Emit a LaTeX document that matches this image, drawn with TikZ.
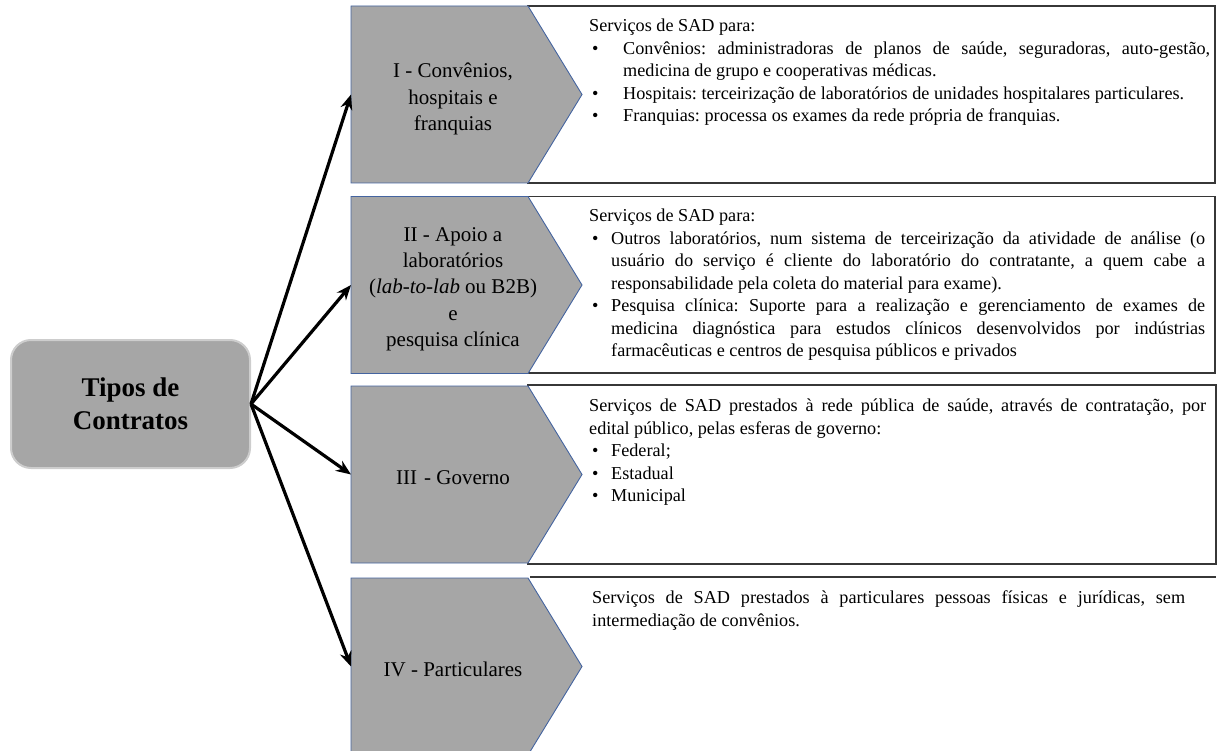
\documentclass[tikz,border=0pt]{standalone}
\usepackage{fontspec}
\setmainfont{Liberation Serif}
\usetikzlibrary{arrows.meta,calc}

\definecolor{chevfill}{RGB}{166,166,166}
\definecolor{chevline}{RGB}{68,100,160}
\definecolor{boxline}{RGB}{55,55,55}
\definecolor{hubline}{RGB}{205,205,205}

% bullet item with hanging indent #1
\newcommand{\bul}[2]{\par\hangindent=#1\hangafter=1\noindent\makebox[#1][l]{\hspace{3pt}\textbullet}\ignorespaces#2}
\newcommand{\bodyfont}{\fontsize{18.2}{22.5}\selectfont\frenchspacing\hyphenpenalty=10000\parindent=0pt}

\begin{document}
\begin{tikzpicture}[x=1pt,y=-1pt,
  chevbody/.style={minimum width=177pt,minimum height=177pt,inner sep=0pt,outer sep=0pt},
  chev/.style={fill=chevfill,draw=chevline,line width=0.9pt,line join=miter},
  panel/.style={draw=boxline,line width=1.6pt},
  chevlabel/.style={align=center,inner sep=0pt,font=\fontsize{21}{26.3}\selectfont},
  desc/.style={anchor=north west,inner sep=0pt,font=\bodyfont,text width=#1,align=justify},
  conn/.style={line width=3.2pt,-{Stealth[length=15pt,width=12pt]}},
  hub/.style={rounded corners=20pt,fill=chevfill,draw=hubline,line width=2pt,
    minimum width=239pt,minimum height=128pt,align=center,
    font=\fontsize{27}{33}\selectfont\bfseries}]

\useasboundingbox (0,0) rectangle (1217,751);
\clip (0,0) rectangle (1217,751);

% chevron bodies (rectangular part of each arrow shape)
\node[chevbody] (ch1) at (439.5,94.5) {};
\node[chevbody] (ch2) at (439.5,285) {};
\node[chevbody] (ch3) at (439.5,474.5) {};
\node[chevbody] (ch4) at (439.5,666.5) {};

% description panels
\draw[panel] (ch1.north east) rectangle (1215,183);
\draw[panel] (ch2.north east) rectangle (1215,373);
\draw[panel] (528,385) rectangle (1216,564);
\draw[panel] (530,577) -- (1216,577);

% chevrons
\foreach \c in {ch1,ch2,ch3,ch4}{
  \draw[chev] (\c.north west) -- (\c.north east) -- ($(\c.east)+(54,0)$)
    -- (\c.south east) -- (\c.south west) -- cycle;
}

% chevron labels
\node[chevlabel] (lab1) at (453,99) {I - Convênios,\\hospitais e\\franquias};
\node[chevlabel] (lab2) at (453,289) {II - Apoio a\\laboratórios\\(\textit{lab-to-lab} ou B2B)\\e\\pesquisa clínica};
\node[chevlabel] (lab3) at (453,478) {III\,\,- Governo};
\node[chevlabel] (lab4) at (453,669) {IV - Particulares};

% descriptions
\node[desc=621pt] (d1) at (589,16) {\strut Serviços de SAD para:
\bul{34pt}{Convênios: administradoras de planos de saúde, seguradoras, auto-gestão,\linebreak medicina de grupo e cooperativas médicas.}
\bul{34pt}{Hospitais: terceirização de laboratórios de unidades hospitalares particulares.}
\bul{34pt}{Franquias: processa os exames da rede própria de franquias.}\par};

\node[desc=616pt] (d2) at (589,206) {\strut Serviços de SAD para:
\bul{22pt}{Outros laboratórios, num sistema de terceirização da atividade de análise (o\linebreak usuário do serviço é cliente do laboratório do contratante, a quem cabe a\linebreak responsabilidade pela coleta do material para exame).}
\bul{22pt}{Pesquisa clínica: Suporte para a realização e gerenciamento de exames de\linebreak medicina diagnóstica para estudos clínicos desenvolvidos por indústrias\linebreak farmacêuticas e centros de pesquisa públicos e privados}\par};

\node[desc=617pt] (d3) at (589,396) {\strut Serviços de SAD prestados à rede pública de saúde, através de contratação, por\linebreak edital público, pelas esferas de governo:
\bul{22pt}{Federal;}
\bul{22pt}{Estadual}
\bul{22pt}{Municipal}\par};

\node[desc=593pt] (d4) at (592,588) {\strut Serviços de SAD prestados à particulares pessoas físicas e jurídicas, sem\linebreak intermediação de convênios.\par};

% central node
\node[hub] (hub) at (130.5,404) {Tipos de\\Contratos};

% connectors
\foreach \c in {ch1,ch2,ch3,ch4}{
  \draw[conn] (hub.east) -- (\c.west);
}
\end{tikzpicture}
\end{document}
